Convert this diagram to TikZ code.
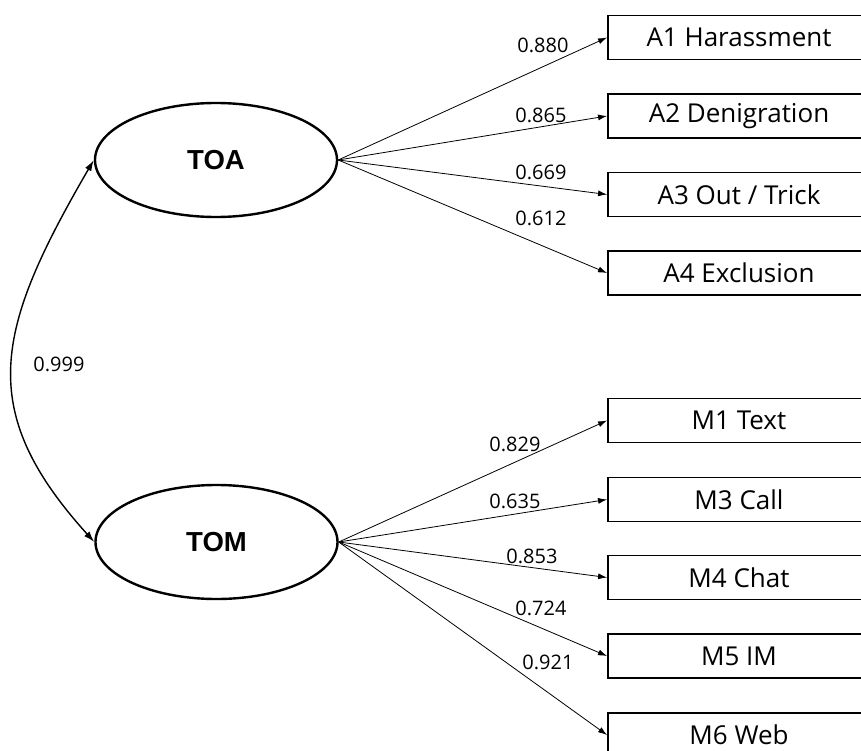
\documentclass[tikz,border=0pt]{standalone}
\usepackage{fontspec}
\setmainfont{Open Sans}
\newfontfamily\latentfont{Liberation Sans}
\usetikzlibrary{arrows.meta,shapes.geometric}

\begin{document}
\begin{tikzpicture}[x=1pt,y=-1pt,
  latent/.style={draw, line width=2.4pt, ellipse, minimum width=242pt,
    minimum height=114pt, inner sep=0pt,
    font=\latentfont\bfseries\fontsize{27.5}{31}\selectfont},
  indicator/.style={draw, line width=1.9pt, rectangle, minimum width=262pt,
    minimum height=44pt, inner sep=0pt, font=\fontsize{26}{30}\selectfont},
  load/.style={line width=0.8pt, -{Latex[length=9pt,width=6pt]}},
  corr/.style={line width=1.4pt, {Latex[length=11pt,width=7pt]}-{Latex[length=11pt,width=7pt]}},
  coef/.style={font=\fontsize{20}{24}\selectfont, inner sep=0pt},
]
\useasboundingbox (0,0) rectangle (861,751);

% latent factors
\node[latent] (toa) at (216,160) {TOA};
\node[latent] (tom) at (216.5,542) {TOM};

% indicators of TOA
\node[indicator] (a1) at (739,37.5)  {A1 Harassment};
\node[indicator] (a2) at (739,116)   {A2 Denigration};
\node[indicator] (a3) at (739,194.5) {A3 Out / Trick};
\node[indicator] (a4) at (739,273)   {A4 Exclusion};

% indicators of TOM
\node[indicator] (m1) at (739,420.5) {M1 Text};
\node[indicator] (m3) at (739,499.5) {M3 Call};
\node[indicator] (m4) at (739,577.5) {M4 Chat};
\node[indicator] (m5) at (739,656)   {M5 IM};
\node[indicator] (m6) at (739,735)   {M6 Web};

% factor loadings
\foreach \t in {a1,a2,a3,a4} \draw[load] (toa.east) -- (\t.west);
\foreach \t in {m1,m3,m4,m5,m6} \draw[load] (tom.east) -- (\t.west);

% factor correlation
\draw[corr] (toa.west) .. controls (-5,330) and (-25,410) .. (tom.west);

% coefficients
\node[coef] (c0) at (59,364)  {0.999};
\node[coef] (c1) at (543,45)  {0.880};
\node[coef] (c2) at (541,115) {0.865};
\node[coef] (c3) at (541,172) {0.669};
\node[coef] (c4) at (541,218) {0.612};
\node[coef] (c5) at (515,444) {0.829};
\node[coef] (c6) at (515,501) {0.635};
\node[coef] (c7) at (532,556) {0.853};
\node[coef] (c8) at (541,608) {0.724};
\node[coef] (c9) at (548,662) {0.921};
\end{tikzpicture}
\end{document}
